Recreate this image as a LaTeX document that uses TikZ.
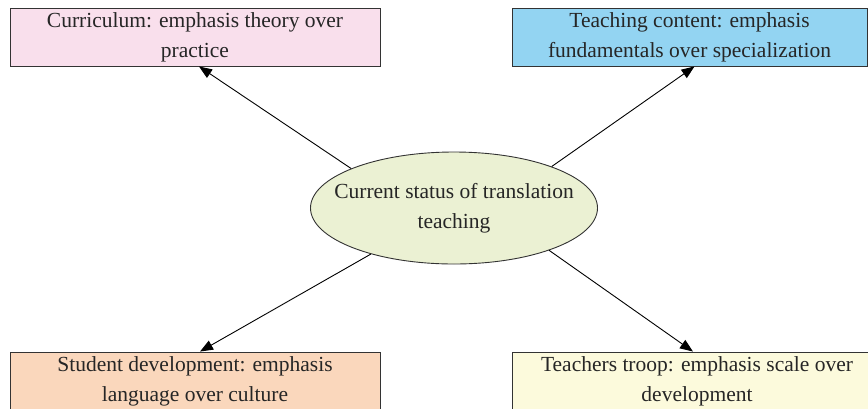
\documentclass[tikz,border=0pt]{standalone}
\usepackage{fontspec}
\setmainfont{Liberation Serif}
\usepackage{tikz}
\usetikzlibrary{shapes.geometric}
\usetikzlibrary{arrows.meta}

\definecolor{boxpink}{RGB}{249,223,236}
\definecolor{boxblue}{RGB}{147,212,242}
\definecolor{boxpeach}{RGB}{250,215,188}
\definecolor{boxyellow}{RGB}{252,250,220}
\definecolor{hubgreen}{RGB}{235,241,211}
\definecolor{edgegray}{RGB}{51,51,51}

\begin{document}
\begin{tikzpicture}[x=1pt, y=-1pt,
    font=\fontsize{21.5}{30}\selectfont,
    aspect/.style={draw=edgegray, line width=0.9pt, minimum height=58pt,
                   inner sep=0pt, align=center, text=black!85},
    arr/.style={line width=0.9pt, -{Triangle[length=13pt, width=10pt]}}]
  \useasboundingbox (0,0) rectangle (868,408);
  % the hub
  \node[ellipse, draw=edgegray, line width=0.9pt, fill=hubgreen,
        minimum width=287pt, minimum height=112pt, inner sep=0pt]
    (status) at (454,208) {};
  \node[align=center, text=black!85] (statustxt) at (status.center)
    {Current status of translation\\teaching};
  % the four aspects
  \node[aspect, fill=boxpink, minimum width=370pt] (curric) at (195,37)
    {Curriculum: emphasis theory over\\practice};
  \node[aspect, fill=boxblue, minimum width=355pt] (content) at (689.5,37)
    {Teaching content: emphasis\\fundamentals over specialization};
  \node[aspect, fill=boxpeach, minimum width=370pt] (student) at (195,381)
    {Student development: emphasis\\language over culture};
  \node[aspect, fill=boxyellow, minimum width=370pt] (troop) at (697,381)
    {Teachers troop: emphasis scale over\\development};
  % arrows out of the hub
  \foreach \a/\n/\s/\d in {159/curric/4/south, 23/content/5/south,
                           209/student/5/north, 336/troop/-4/north}
    \draw[arr] (status.\a) -- ([xshift=\s pt]\n.\d);
\end{tikzpicture}
\end{document}
